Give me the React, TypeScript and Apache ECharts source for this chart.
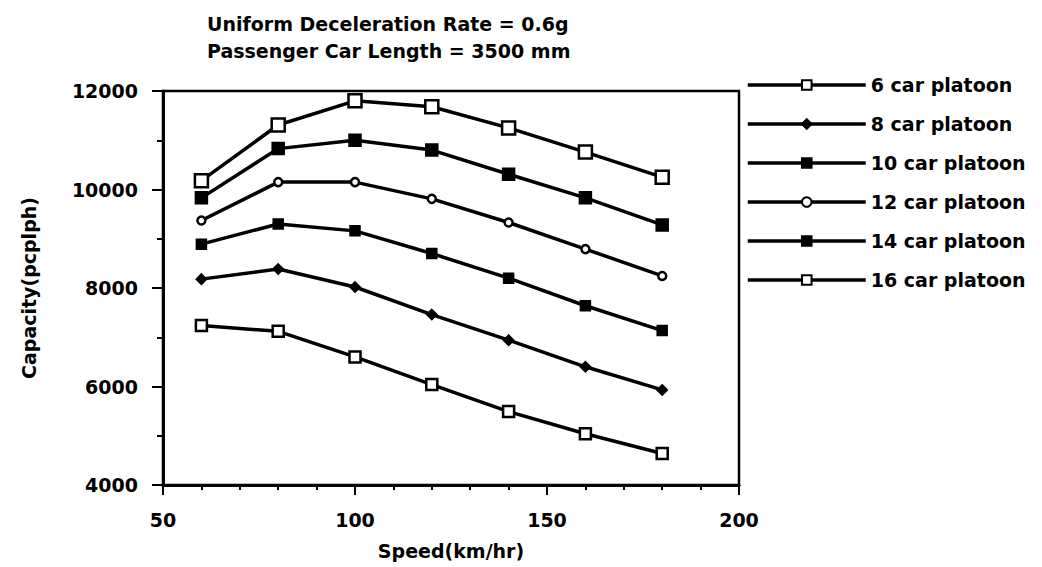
import React, { useEffect, useRef } from "react";
import * as echarts from "echarts";

const speeds = [60, 80, 100, 120, 140, 160, 180];
const car6 = [7240, 7120, 6600, 6040, 5490, 5040, 4640];
const car8 = [8180, 8385, 8020, 7460, 6940, 6400, 5930];
const car10 = [9830, 10830, 11000, 10800, 10310, 9830, 9280];
const car12 = [9370, 10150, 10150, 9810, 9330, 8790, 8245];
const car14 = [8890, 9300, 9160, 8700, 8200, 7640, 7135];
const car16 = [10180, 11310, 11800, 11680, 11250, 10760, 10250];
const seriesNames = [
  "6 car platoon",
  "8 car platoon",
  "10 car platoon",
  "12 car platoon",
  "14 car platoon",
  "16 car platoon",
];
const titleLines = ["Uniform Deceleration Rate = 0.6g", "Passenger Car Length = 3500 mm"];
const xName = "Speed(km/hr)";
const yName = "Capacity(pcplph)";

const FONT = "'DejaVu Sans', sans-serif";

export default function App() {
  const ref = useRef<HTMLDivElement>(null);
  useEffect(() => {
    if (!ref.current) return;
    const chart = echarts.init(ref.current, undefined, { renderer: "svg" });
    const values = [car6, car8, car10, car12, car14, car16];
    const markers = [
      { symbol: "rect", size: 11, fill: "#fff" },
      { symbol: "diamond", size: 9, fill: "#000" },
      { symbol: "rect", size: 11, fill: "#000" },
      { symbol: "circle", size: 8, fill: "#fff" },
      { symbol: "rect", size: 9, fill: "#000" },
      { symbol: "rect", size: 13, fill: "#fff" },
    ];
    const series = values.map((v, i) => ({
      name: seriesNames[i],
      type: "line",
      data: speeds.map((s, j) => [s, v[j]]),
      symbol: markers[i].symbol,
      symbolSize: markers[i].size,
      showAllSymbol: true,
      lineStyle: { color: "#000", width: 3.5 },
      itemStyle: { color: markers[i].fill, borderColor: "#000", borderWidth: 2.5 },
      z: 3,
    }));
    chart.setOption({
      animation: false,
      backgroundColor: "#fff",
      title: {
        text: titleLines.join("\n"),
        left: 207,
        top: 10,
        padding: 0,
        textStyle: {
          fontFamily: FONT,
          fontWeight: "bold",
          fontSize: 19,
          lineHeight: 27,
          color: "#000",
        },
      },
      legend: {
        orient: "vertical",
        left: 746,
        top: 75,
        padding: 0,
        itemWidth: 118,
        itemHeight: 12,
        itemGap: 19,
        data: seriesNames,
        lineStyle: { width: 3.5, color: "#000" },
        textStyle: {
          fontFamily: FONT,
          fontWeight: "bold",
          fontSize: 19,
          lineHeight: 20,
          color: "#000",
        },
      },
      grid: {
        left: 163,
        right: 303,
        top: 91,
        bottom: 82,
        show: true,
        borderColor: "#000",
        borderWidth: 2.5,
        backgroundColor: "transparent",
      },
      xAxis: {
        type: "value",
        min: 50,
        max: 200,
        interval: 50,
        name: xName,
        nameLocation: "middle",
        nameGap: 56,
        nameTextStyle: { fontFamily: FONT, fontWeight: "bold", fontSize: 19, color: "#000" },
        axisLine: { show: true, lineStyle: { color: "#000", width: 3 } },
        axisTick: { show: true, length: 10, lineStyle: { color: "#000", width: 2 } },
        minorTick: { show: true, splitNumber: 5, length: 5, lineStyle: { color: "#000", width: 2 } },
        splitLine: { show: false },
        axisLabel: { margin: 25, fontFamily: FONT, fontWeight: "bold", fontSize: 19, color: "#000" },
      },
      yAxis: {
        type: "value",
        min: 4000,
        max: 12000,
        interval: 2000,
        name: yName,
        nameLocation: "middle",
        nameGap: 125,
        nameRotate: 90,
        nameTextStyle: { fontFamily: FONT, fontWeight: "bold", fontSize: 19, color: "#000" },
        axisLine: { show: true, lineStyle: { color: "#000", width: 3 } },
        axisTick: { show: true, length: 11, lineStyle: { color: "#000", width: 2 } },
        minorTick: { show: true, splitNumber: 2, length: 6, lineStyle: { color: "#000", width: 2 } },
        splitLine: { show: false },
        axisLabel: {
          margin: 25,
          fontFamily: FONT,
          fontWeight: "bold",
          fontSize: 19,
          color: "#000",
          formatter: (v: number) => String(v),
        },
      },
      series,
    });
    return () => chart.dispose();
  }, []);
  return <div ref={ref} style={{ width: 1042, height: 567, position: "absolute", left: 0, top: 0 }} />;
}
